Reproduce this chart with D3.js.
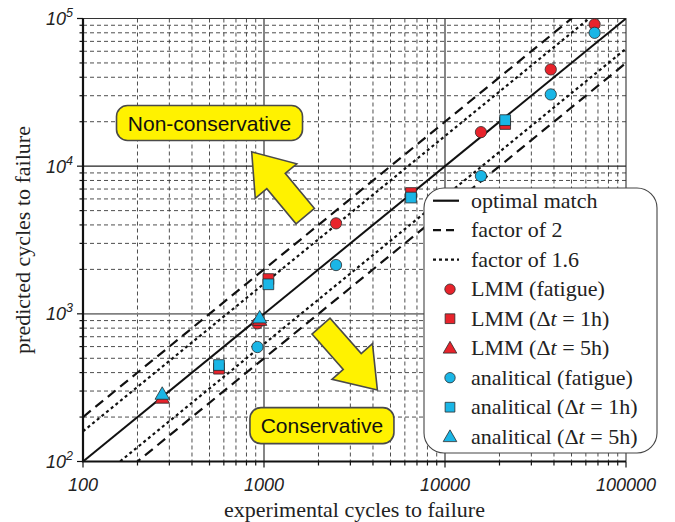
<!DOCTYPE html>
<html>
<head>
<meta charset="utf-8">
<script src="https://cdn.jsdelivr.net/npm/d3@7"></script>
<style>
  html, body { margin: 0; padding: 0; background: #fff; }
  svg { display: block; }
</style>
</head>
<body>
<svg id="chart" width="675" height="522"></svg>
<script>
// ---- data: experimental vs predicted cycles to failure ----
const fatigueExp       = [920, 2500, 15800, 38400, 67100];
const lmmFatigue       = [862, 4100, 17000, 45200, 91200];
const anaFatigue       = [596, 2140, 8570, 30600, 80000];

const dwell1hExp       = [564, 1057, 6490, 21500];
const lmmDwell1h       = [425, 1720, 6580, 19300];
const anaDwell1h       = [450, 1585, 6130, 20500];

const dwell5hExp       = [274, 946];
const lmmDwell5h       = [269, 905];
const anaDwell5h       = [286, 941];

const xTickValues      = [100, 1000, 10000, 100000];
const xTickLabels      = ["100", "1000", "10000", "100000"];
const yTickExponents   = [2, 3, 4, 5];
const bandFactors      = [2, 1.6];

const W = 675, H = 522;
const plot = { left: 83, right: 626, top: 18.5, bottom: 461.5 };
const RED = "#e8232b", BLUE = "#1ab6e6", YELLOW = "#fff200";

const svg = d3.select("#chart");
const x = d3.scaleLog().domain([100, 1e5]).range([plot.left, plot.right]);
const y = d3.scaleLog().domain([100, 1e5]).range([plot.bottom, plot.top]);

// clip for diagonal guide lines
svg.append("defs").append("clipPath").attr("id", "plotClip")
  .append("rect").attr("x", plot.left).attr("y", plot.top)
  .attr("width", plot.right - plot.left).attr("height", plot.bottom - plot.top);

// ---- grid ----
const decades = [100, 1000, 10000, 100000];
const minor = [];
decades.slice(0, 3).forEach(d => { for (let k = 2; k <= 9; k++) minor.push(d * k); });

const grid = svg.append("g");
grid.selectAll(".vmin").data(minor).join("line")
  .attr("x1", d => x(d)).attr("x2", d => x(d))
  .attr("y1", plot.top).attr("y2", plot.bottom)
  .attr("stroke", "#3a3a3a").attr("stroke-width", 0.9).attr("stroke-dasharray", "4,3");
grid.selectAll(".hmin").data(minor).join("line")
  .attr("y1", d => y(d)).attr("y2", d => y(d))
  .attr("x1", plot.left).attr("x2", plot.right)
  .attr("stroke", "#3a3a3a").attr("stroke-width", 0.9).attr("stroke-dasharray", "4,3");
grid.selectAll(".vmaj").data([1000, 10000]).join("line")
  .attr("x1", d => x(d)).attr("x2", d => x(d))
  .attr("y1", plot.top).attr("y2", plot.bottom)
  .attr("stroke", "#222").attr("stroke-width", 1.1);
grid.selectAll(".hmaj").data([1000, 10000]).join("line")
  .attr("y1", d => y(d)).attr("y2", d => y(d))
  .attr("x1", plot.left).attr("x2", plot.right)
  .attr("stroke", d => d === 1000 ? "#808080" : "#222")
  .attr("stroke-width", d => d === 1000 ? 1.6 : 1.1);

// frame (top and right)
svg.append("path")
  .attr("d", `M${plot.left},${plot.top}H${plot.right}V${plot.bottom}`)
  .attr("fill", "none").attr("stroke", "#333").attr("stroke-width", 1.1);

// ---- axes ----
const allTicks = decades.concat(minor);
const axisG = svg.append("g");
axisG.selectAll(".xt").data(allTicks).join("line")
  .attr("x1", d => x(d)).attr("x2", d => x(d))
  .attr("y1", plot.bottom).attr("y2", d => plot.bottom + (decades.includes(d) ? 6 : 4))
  .attr("stroke", "#111").attr("stroke-width", 1.2);
axisG.selectAll(".yt").data(allTicks).join("line")
  .attr("y1", d => y(d)).attr("y2", d => y(d))
  .attr("x1", plot.left).attr("x2", d => plot.left - (decades.includes(d) ? 6 : 3.5))
  .attr("stroke", "#111").attr("stroke-width", 1.2);
axisG.append("path")
  .attr("d", `M${plot.left},${plot.top}V${plot.bottom}H${plot.right}`)
  .attr("fill", "none").attr("stroke", "#111").attr("stroke-width", 2.2);

axisG.selectAll(".xl").data(xTickValues).join("text")
  .attr("x", d => x(d)).attr("y", plot.bottom + 29.5)
  .attr("text-anchor", "middle")
  .attr("font-family", "'Liberation Sans', Arial, sans-serif")
  .attr("font-style", "italic").attr("font-size", 18).attr("fill", "#222")
  .text((d, i) => xTickLabels[i]);

const yl = axisG.selectAll(".yl").data(yTickExponents).join("text")
  .attr("x", 73).attr("y", d => y(Math.pow(10, d)) + 6.5)
  .attr("text-anchor", "end")
  .attr("font-family", "'Liberation Sans', Arial, sans-serif")
  .attr("font-style", "italic").attr("font-size", 18).attr("fill", "#222");
yl.append("tspan").text("10");
yl.append("tspan").attr("dy", -8).attr("font-size", 12.5).text(d => d);

// axis titles
svg.append("text")
  .attr("x", (plot.left + plot.right) / 2).attr("y", 516.5)
  .attr("text-anchor", "middle")
  .attr("font-family", "'Liberation Serif', 'Times New Roman', serif")
  .attr("font-size", 22).attr("fill", "#222")
  .text("experimental cycles to failure");
svg.append("text")
  .attr("transform", `translate(30,${(plot.top + plot.bottom) / 2}) rotate(-90)`)
  .attr("text-anchor", "middle")
  .attr("font-family", "'Liberation Serif', 'Times New Roman', serif")
  .attr("font-size", 22).attr("fill", "#222")
  .text("predicted cycles to failure");

// ---- guide lines: optimal match and scatter bands ----
const guides = svg.append("g").attr("clip-path", "url(#plotClip)");
const diag = f => [[100, 100 * f], [1e5, 1e5 * f]];
guides.append("line")
  .datum(diag(1))
  .attr("x1", d => x(d[0][0])).attr("y1", d => y(d[0][1]))
  .attr("x2", d => x(d[1][0])).attr("y2", d => y(d[1][1]))
  .attr("stroke", "#111").attr("stroke-width", 2);
bandFactors.forEach((f, i) => {
  [f, 1 / f].forEach(k => {
    const d = diag(k);
    guides.append("line")
      .attr("x1", x(d[0][0])).attr("y1", y(d[0][1]))
      .attr("x2", x(d[1][0])).attr("y2", y(d[1][1]))
      .attr("stroke", "#111").attr("stroke-width", 2.2)
      .attr("stroke-dasharray", i === 0 ? "10,6" : "3,3");
  });
});

// ---- annotations ----
function arrow(g, tail, tip) {
  const S = [x(tail[0]), y(tail[1])], T = [x(tip[0]), y(tip[1])];
  const dx = T[0] - S[0], dy = T[1] - S[1], L = Math.hypot(dx, dy);
  const u = [dx / L, dy / L], n = [-u[1], u[0]];
  const h = 38, w = 27, s = 12;
  const p = (a, b) => [S[0] + u[0] * a + n[0] * b, S[1] + u[1] * a + n[1] * b];
  const pts = [p(0, s), p(L - h, s), p(L - h, w), T, p(L - h, -w), p(L - h, -s), p(0, -s)];
  g.append("polygon").attr("points", pts.map(q => q.join(",")).join(" "))
    .attr("fill", YELLOW).attr("stroke", "#4a4a4a").attr("stroke-width", 1.6)
    .attr("stroke-linejoin", "miter");
}
function labelBox(g, center, text, w, h) {
  const cx = x(center[0]), cy = y(center[1]);
  g.append("rect").attr("x", cx - w / 2).attr("y", cy - h / 2)
    .attr("width", w).attr("height", h).attr("rx", 11)
    .attr("fill", YELLOW).attr("stroke", "#4a4a4a").attr("stroke-width", 1.6);
  g.append("text").attr("x", cx).attr("y", cy + 7.5)
    .attr("text-anchor", "middle")
    .attr("font-family", "'Liberation Sans', Arial, sans-serif")
    .attr("font-size", 21).attr("fill", "#111").text(text);
}
const ann = svg.append("g");
labelBox(ann, [500, 19600], "Non-conservative", 186, 35);
arrow(ann, [1690, 4590], [855, 12500]);
arrow(ann, [2065, 826], [4230, 305]);
labelBox(ann, [2090, 175], "Conservative", 144, 36);

// ---- markers ----
const markerSym = { circle: d3.symbolCircle, square: d3.symbolSquare, triangle: d3.symbolTriangle };
const markerArea = { circle: 100, square: 115, triangle: 90 };
function drawSeries(xs, ys, shape, color) {
  const sym = d3.symbol().type(markerSym[shape]).size(markerArea[shape]);
  svg.append("g").selectAll("path").data(xs.map((v, i) => [v, ys[i]])).join("path")
    .attr("transform", d => `translate(${x(d[0])},${y(d[1]) + (shape === "triangle" ? 1 : 0)})`)
    .attr("d", sym)
    .attr("fill", color).attr("stroke", "#2b2b2b").attr("stroke-width", 0.8);
}
drawSeries(fatigueExp, lmmFatigue, "circle", RED);
drawSeries(dwell1hExp, lmmDwell1h, "square", RED);
drawSeries(dwell5hExp, lmmDwell5h, "triangle", RED);
drawSeries(fatigueExp, anaFatigue, "circle", BLUE);
drawSeries(dwell1hExp, anaDwell1h, "square", BLUE);
drawSeries(dwell5hExp, anaDwell5h, "triangle", BLUE);

// ---- legend ----
const leg = svg.append("g");
const legBox = { x: 424, y: 188, w: 233, h: 265 };
leg.append("rect").attr("x", legBox.x).attr("y", legBox.y)
  .attr("width", legBox.w).attr("height", legBox.h).attr("rx", 20)
  .attr("fill", "#fff").attr("stroke", "#444").attr("stroke-width", 1.1);

const legendItems = [
  { kind: "line", dash: null, label: ["optimal match"] },
  { kind: "line", dash: "8,5", label: ["factor of 2"] },
  { kind: "line", dash: "3,3", label: ["factor of 1.6"] },
  { kind: "circle", color: RED, label: ["LMM (fatigue)"] },
  { kind: "square", color: RED, label: ["LMM (", "Δ", "t", " = 1h)"] },
  { kind: "triangle", color: RED, label: ["LMM (", "Δ", "t", " = 5h)"] },
  { kind: "circle", color: BLUE, label: ["analitical (fatigue)"] },
  { kind: "square", color: BLUE, label: ["analitical (", "Δ", "t", " = 1h)"] },
  { kind: "triangle", color: BLUE, label: ["analitical (", "Δ", "t", " = 5h)"] }
];
const rowY = i => 200.7 + i * 29.5;
legendItems.forEach((it, i) => {
  const cy = rowY(i);
  if (it.kind === "line") {
    leg.append("line").attr("x1", 433).attr("x2", 459).attr("y1", cy).attr("y2", cy)
      .attr("stroke", "#111").attr("stroke-width", 2.2)
      .attr("stroke-dasharray", it.dash);
  } else {
    const size = { circle: 85, square: 95, triangle: 80 }[it.kind];
    leg.append("path")
      .attr("transform", `translate(450,${cy + (it.kind === "triangle" ? 1 : 0)})`)
      .attr("d", d3.symbol().type(markerSym[it.kind]).size(size)())
      .attr("fill", it.color).attr("stroke", "#2b2b2b").attr("stroke-width", 0.8);
  }
  const t = leg.append("text").attr("x", 471).attr("y", cy + 7)
    .attr("font-family", "'Liberation Serif', 'Times New Roman', serif")
    .attr("font-size", 22).attr("fill", "#222");
  it.label.forEach((part, j) => {
    const ts = t.append("tspan").text(part);
    if (it.label.length > 1 && j === 2) ts.attr("font-style", "italic");
  });
});
</script>
</body>
</html>
